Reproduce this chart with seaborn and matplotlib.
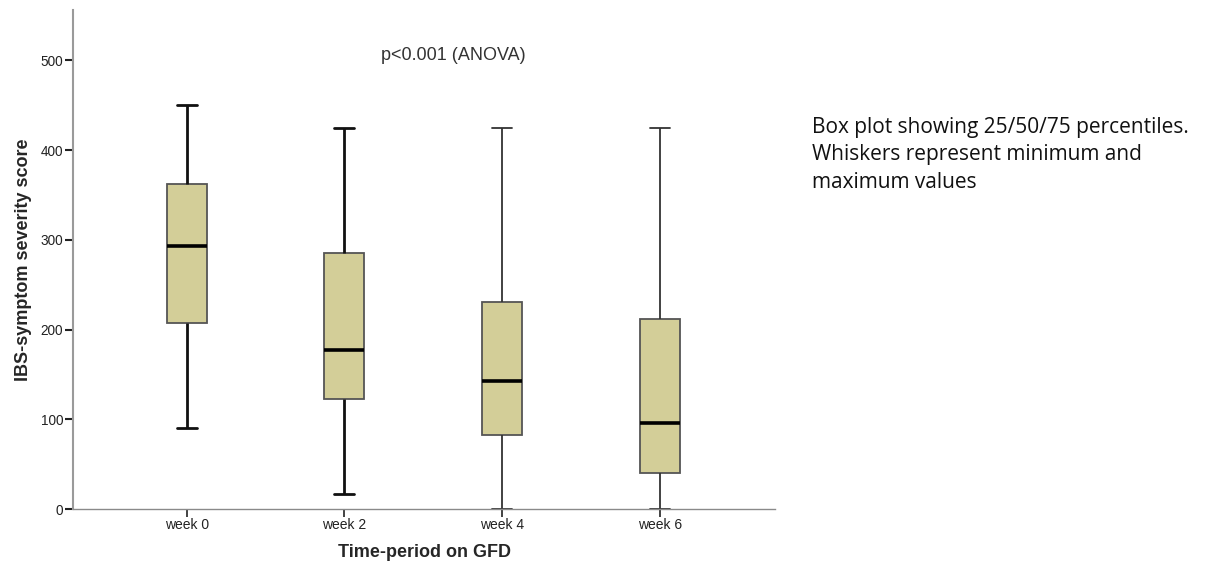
import numpy as np
import pandas as pd
import matplotlib
matplotlib.use("Agg")
import matplotlib.pyplot as plt
import seaborn as sns

# ---- data ----
periods = ["week 0", "week 2", "week 4", "week 6"]
mins    = [91, 17, 0, 0]
q1s     = [208, 123, 83, 40]
medians = [293, 177, 143, 96]
q3s     = [362, 285, 231, 212]
maxs    = [450, 425, 425, 425]
yticks  = [0, 100, 200, 300, 400, 500]
note_lines = ["Box plot showing 25/50/75 percentiles.",
              "Whiskers represent minimum and",
              "maximum values"]

rows = []
for p, a, b, c, d, e in zip(periods, mins, q1s, medians, q3s, maxs):
    for v in (a, b, c, d, e):
        rows.append({"period": p, "score": v})
df = pd.DataFrame(rows)

sns.set_style("white")
plt.rcParams["font.family"] = ["Liberation Sans", "DejaVu Sans"]

fig = plt.figure(figsize=(12.05, 5.66), dpi=100)
ax = fig.add_axes([73/1205, 1 - 509.3/566, (775-73)/1205, (509.3-10)/566])

box_fill = "#D3CE98"
sns.boxplot(
    data=df, x="period", y="score", order=periods, ax=ax,
    whis=(0, 100), width=0.253, color=box_fill, saturation=1,
    linecolor="#555555", linewidth=1.3,
    boxprops=dict(facecolor=box_fill, edgecolor="#555555", linewidth=1.3),
    medianprops=dict(color="black", linewidth=2.6),
    whiskerprops=dict(color="#111111", linewidth=2.0),
    capprops=dict(color="#111111", linewidth=2.0),
    showfliers=False,
)

# thinner whiskers for week 4 and week 6 (as in the reference)
for ln in ax.lines:
    xd = np.asarray(ln.get_xdata(), dtype=float)
    if xd.size and np.mean(xd) > 1.5 and ln.get_linewidth() == 2.0:
        ln.set_linewidth(1.3)
        ln.set_color("#333333")

ax.set_xlim(-0.72, 3.73)
ax.set_ylim(0, 556)
ax.set_yticks(yticks)
ax.set_yticklabels([str(t) for t in yticks], fontsize=9.8, color="#222222")
ax.tick_params(axis="x", labelsize=10, colors="#222222", length=6, width=1.2,
               direction="out", bottom=True, pad=0)
ax.tick_params(axis="y", length=6, width=1.5, direction="out", left=True,
               color="#222222", pad=1)
for lab in ax.get_xticklabels():
    lab.set_color("#222222")

for s in ("top", "right"):
    ax.spines[s].set_visible(False)
ax.spines["left"].set_color("#9a9a9a")
ax.spines["left"].set_linewidth(1.5)
ax.spines["bottom"].set_color("#8a8a8a")
ax.spines["bottom"].set_linewidth(1.0)

ax.set_xlabel("Time-period on GFD", fontsize=13, fontweight="bold", labelpad=9)
ax.set_ylabel("IBS-symptom severity score", fontsize=13, fontweight="bold", labelpad=6)

fig.text(453/1205, 1 - 56/566, "p<0.001 (ANOVA)", fontsize=13, color="#333333",
         ha="center", va="center")

for i, line in enumerate(note_lines):
    fig.text(812/1205, 1 - (127 + 27.5 * i)/566, line, fontsize=15,
             color="#111111", ha="left", va="center",
             family=["Open Sans", "DejaVu Sans"])

fig.savefig("out.png", dpi=100)
